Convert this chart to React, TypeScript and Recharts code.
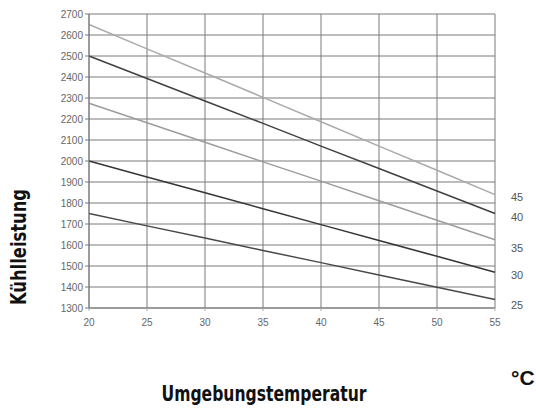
import React from "react";
import { LineChart, Line, XAxis, YAxis, CartesianGrid, Label } from "recharts";

const temps = [20, 25, 30, 35, 40, 45, 50, 55];
const s45 = [2650, 2534, 2419, 2303, 2187, 2071, 1956, 1840];
const s40 = [2500, 2393, 2286, 2179, 2071, 1964, 1857, 1750];
const s35 = [2275, 2182, 2089, 1996, 1904, 1811, 1718, 1625];
const s30 = [2000, 1924, 1849, 1773, 1697, 1621, 1546, 1470];
const s25 = [1750, 1691, 1633, 1574, 1516, 1457, 1399, 1340];
const yTicks = [1300, 1400, 1500, 1600, 1700, 1800, 1900, 2000, 2100, 2200, 2300, 2400, 2500, 2600, 2700];
const seriesNames = ["45", "40", "35", "30", "25"];

const data = temps.map((t, i) => ({ t, s45: s45[i], s40: s40[i], s35: s35[i], s30: s30[i], s25: s25[i] }));

const series = [
  { key: "s45", name: seriesNames[0], color: "#aaaaaa", dy: 2 },
  { key: "s40", name: seriesNames[1], color: "#404040", dy: 3 },
  { key: "s35", name: seriesNames[2], color: "#9c9c9c", dy: 8 },
  { key: "s30", name: seriesNames[3], color: "#353535", dy: 3 },
  { key: "s25", name: seriesNames[4], color: "#484848", dy: 5 },
];

const titleFont = "'DejaVu Sans Condensed', 'DejaVu Sans', sans-serif";
const tickFont = "'Liberation Sans', Arial, sans-serif";

export default function App() {
  return (
    <div style={{ position: "absolute", left: 0, top: 0, width: 536, height: 411, background: "#fff" }}>
      <LineChart width={536} height={411} data={data} margin={{ top: 14, right: 41, bottom: 73, left: 0 }}>
        <CartesianGrid stroke="#7a7a7a" strokeWidth={1} />
        <XAxis
          dataKey="t"
          type="number"
          domain={[20, 55]}
          ticks={temps}
          height={30}
          axisLine={{ stroke: "#7a7a7a" }}
          tickLine={{ stroke: "#aaa" }}
          tickSize={3}
          tick={{ fill: "#666", fontSize: 10, fontFamily: tickFont, dy: 6 }}
        >
          <Label
            content={() => (
              <g>
                <text
                  x={264}
                  y={401}
                  textAnchor="middle"
                  fontFamily={titleFont}
                  fontWeight="bold"
                  fontSize={21}
                  fill="#111"
                  textLength={205}
                  lengthAdjust="spacingAndGlyphs"
                >
                  Umgebungstemperatur
                </text>
                <text x={511} y={385} textAnchor="start" fontFamily={"'Liberation Sans', Arial, sans-serif"} fontWeight="bold" fontSize={21} fill="#111">
                  °C
                </text>
              </g>
            )}
          />
        </XAxis>
        <YAxis
          type="number"
          domain={[1300, 2700]}
          ticks={yTicks}
          width={89}
          interval={0}
          axisLine={{ stroke: "#7a7a7a" }}
          tickLine={{ stroke: "#7a7a7a" }}
          tickSize={4}
          tick={{ fill: "#666", fontSize: 10, fontFamily: tickFont }}
        >
          <Label
            content={() => (
              <text
                x={26}
                y={247}
                textAnchor="middle"
                transform="rotate(-90 26 247)"
                fontFamily={titleFont}
                fontWeight="bold"
                fontSize={21}
                fill="#111"
                textLength={116}
                lengthAdjust="spacingAndGlyphs"
              >
                Kühlleistung
              </text>
            )}
          />
        </YAxis>
        {series.map((s) => (
          <Line
            key={s.key}
            dataKey={s.key}
            type="linear"
            stroke={s.color}
            strokeWidth={1.5}
            dot={false}
            isAnimationActive={false}
            label={(p: any) =>
              p.index === temps.length - 1 ? (
                <text key={s.key + "lbl"} x={p.x + 16} y={p.y + s.dy + 4} fontSize={11} fontFamily={tickFont} fill="#555">
                  {s.name}
                </text>
              ) : (
                <g key={s.key + "lbl" + p.index} />
              )
            }
          />
        ))}
      </LineChart>
    </div>
  );
}
